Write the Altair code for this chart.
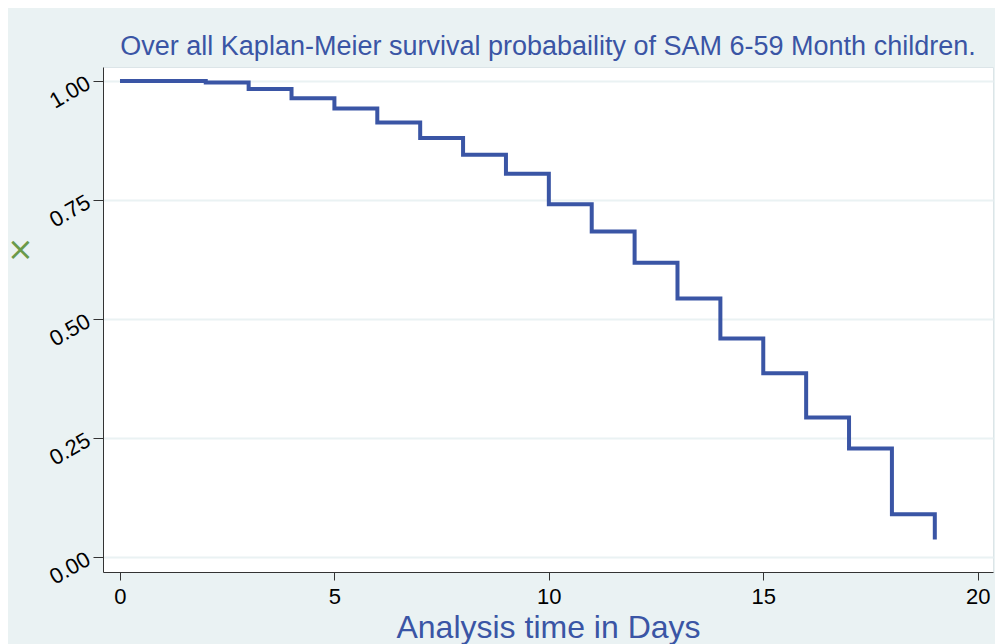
import altair as alt
import pandas as pd

# Kaplan-Meier step values
days = [0, 2, 3, 4, 5, 6, 7, 8, 9, 10, 11, 12, 13, 14, 15, 16, 17, 18, 19]
survival = [1.000, 0.997, 0.983, 0.964, 0.942, 0.913, 0.880, 0.845, 0.805,
            0.741, 0.684, 0.618, 0.543, 0.459, 0.386, 0.293, 0.228, 0.090, 0.037]
x_ticks = [0, 5, 10, 15, 20]
y_ticks = [0.0, 0.25, 0.5, 0.75, 1.0]

df = pd.DataFrame({"t": days, "s": survival})

BLUE = "#3A55A5"
BG = "#EAF2F3"

chart = alt.Chart(df).mark_line(
    interpolate="step-after", strokeWidth=4, color=BLUE, strokeCap="butt"
).encode(
    x=alt.X("t:Q",
            scale=alt.Scale(domain=[-0.396, 20.357], nice=False, zero=False),
            axis=alt.Axis(values=x_ticks, title="Analysis time in Days",
                          grid=False, format="d",
                          labelFontSize=22, labelFont="Liberation Sans",
                          labelColor="black", labelPadding=6,
                          tickSize=8, tickColor="#333333",
                          domainColor="#333333",
                          titleFontSize=32, titleFont="Liberation Sans",
                          titleFontWeight="normal", titleColor=BLUE,
                          titleBaseline="alphabetic", titleY=65)),
    y=alt.Y("s:Q",
            scale=alt.Scale(domain=[-0.0315, 1.0294], nice=False, zero=False),
            axis=alt.Axis(values=y_ticks, format=".2f", title="×",
                          grid=True, gridColor=BG, gridWidth=2,
                          labelFontSize=22, labelFont="Liberation Sans",
                          labelColor="black", labelAngle=330, labelPadding=5,
                          tickSize=10, tickColor="#333333",
                          domainColor="#333333",
                          titleAngle=0, titleX=-83, titleY=182,
                          titleAlign="center", titleBaseline="middle",
                          titleColor="#6A9A4A", titleFontSize=32,
                          titleFont="DejaVu Sans", titleFontWeight="normal")),
).properties(
    width=890,
    height=505,
    background=BG,
    padding={"left": 95, "top": 59, "right": 2, "bottom": 72},
    autosize=alt.AutoSizeParams(type="none"),
    title=alt.TitleParams(
        "Over all Kaplan-Meier survival probabaility of SAM 6-59 Month children.",
        font="Liberation Sans", fontSize=27, fontWeight="normal",
        color=BLUE, anchor="middle", baseline="alphabetic", offset=-15),
).configure_view(
    fill="white", stroke="#DCE5E8", strokeWidth=1
)

chart.save("out.html", embed_options={"renderer": "svg", "actions": False})
